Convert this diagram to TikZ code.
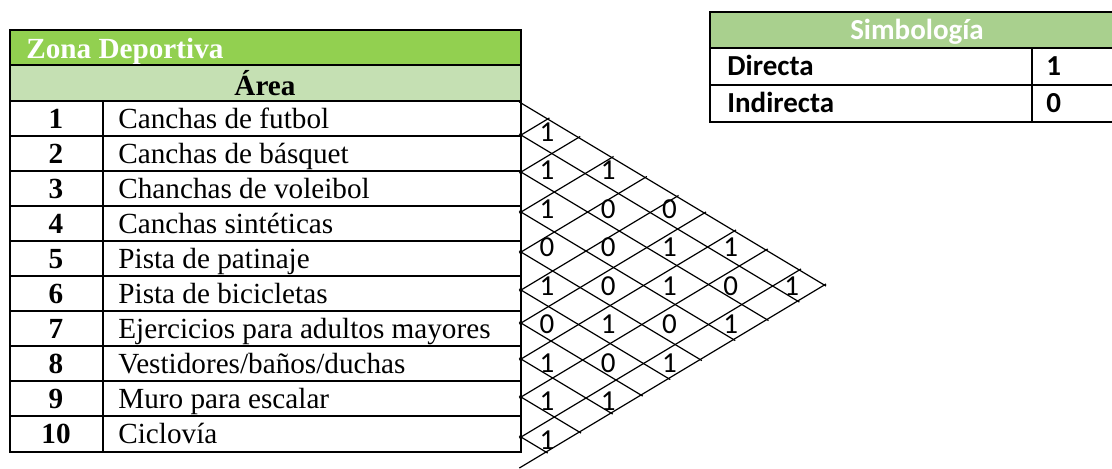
\documentclass[tikz,border=0pt]{standalone}
\usepackage{fontspec}
\setmainfont{Liberation Serif}
\newfontfamily\calibri{Carlito}
\usetikzlibrary{positioning, calc}
\definecolor{zonagreen}{HTML}{92D050}
\definecolor{areagreen}{HTML}{C5E0B3}
\definecolor{simbgreen}{HTML}{A9D08E}
\begin{document}
\begin{tikzpicture}[
x=0.5pt, y=-0.5pt,
border/.style={line width=1pt},
diag/.style={line width=0.6pt, shorten <=-1pt, shorten >=-1pt},
txt/.style={inner sep=0pt, font=\fontsize{14.6}{17}\selectfont},
numcell/.style={txt, font=\fontsize{14.6}{17}\selectfont\bfseries, anchor=base},
labelcell/.style={txt, anchor=base west},
rel/.style={inner sep=0pt, font=\calibri\fontsize{14.5}{16}\selectfont},
legtext/.style={inner sep=0pt, font=\calibri\bfseries\fontsize{14.5}{16}\selectfont, anchor=base west}
]
\useasboundingbox (0,0) rectangle (1112,468);

% --- Tabla Zona Deportiva ---
\fill[zonagreen] (9.5,30) rectangle (521,65);
\fill[areagreen] (9.5,65) rectangle (521,101);
\node[txt, anchor=base west, text=white, font=\fontsize{14.6}{17}\selectfont\bfseries] (zona) at (26,58) {Zona Deportiva};
\node[txt, anchor=base, font=\fontsize{14.6}{17}\selectfont\bfseries] (area) at (265,95) {Área};

\foreach \i/\name in {1/Canchas de futbol, 2/Canchas de básquet, 3/Chanchas de voleibol,
  4/Canchas sintéticas, 5/Pista de patinaje, 6/Pista de bicicletas,
  7/Ejercicios para adultos mayores, 8/{Vestidores/baños/duchas},
  9/Muro para escalar, 10/Ciclovía}{
  \node[numcell] (n\i) at (56,{93+35*\i}) {\i};
  \node[labelcell] (l\i) at (118,{93+35*\i}) {\name};
}

% bordes
\draw[border] (9.5,30) rectangle (521,452);
\draw[border] (9.5,65) -- (521,65);
\foreach \i in {0,...,9}
  \draw[border] (9.5,{101+35*\i}) -- (521,{101+35*\i});
\draw[border] (103,101) -- (103,452);

% --- Matriz de relaciones ---
\def\tiplist{{103,135,172,212,252,290,323,359,397,437,467}}
\foreach \k in {0,...,10}{
  \pgfmathsetmacro\ty{\tiplist[\k]}
  \coordinate (t\k) at (521,\ty);
}
% extremos sobre el borde inferior
\foreach \k in {0,...,9}{
  \pgfmathsetmacro\ty{\tiplist[\k]}
  \coordinate (lo\k) at ({521+(467-\ty)/1.2},{(\ty+467)/2});
}
% extremos sobre el borde superior
\foreach \k in {1,...,10}{
  \pgfmathsetmacro\ty{\tiplist[\k]}
  \coordinate (up\k) at ({521+(\ty-103)/1.2},{(\ty+103)/2});
}
\foreach \k in {0,...,9} \draw[diag] (t\k) -- (lo\k);
\foreach \k in {1,...,10} \draw[diag] (t\k) -- (up\k);

% valores
\foreach \r/\vals in {1/{1}, 2/{1,1}, 3/{1,0,0}, 4/{0,0,1,1}, 5/{1,0,1,0,1},
  6/{0,1,0,1}, 7/{1,0,1}, 8/{1,1}, 9/{1}}{
  \foreach \val [count=\c] in \vals
    \node[rel] (m\r-\c) at ({547+61.2*(\c-1)},{132+38.5*(\r-1)}) {\val};
}

% --- Simbología ---
\fill[simbgreen] (710,12) rectangle (1120,48);
\node[inner sep=0pt, anchor=base, text=white, font=\calibri\bfseries\fontsize{14.5}{16}\selectfont] (simb) at (917,39) {Simbología};
\node[legtext] (dir) at (727,75) {Directa};
\node[legtext] (dirv) at (1046,75) {1};
\node[legtext] (ind) at (727,112) {Indirecta};
\node[legtext] (indv) at (1046,112) {0};
\draw[border] (1120,12) -- (710,12) -- (710,122) -- (1120,122);
\draw[border] (710,48) -- (1120,48);
\draw[border] (710,85) -- (1120,85);
\draw[border] (1032,48) -- (1032,122);
\end{tikzpicture}
\end{document}
